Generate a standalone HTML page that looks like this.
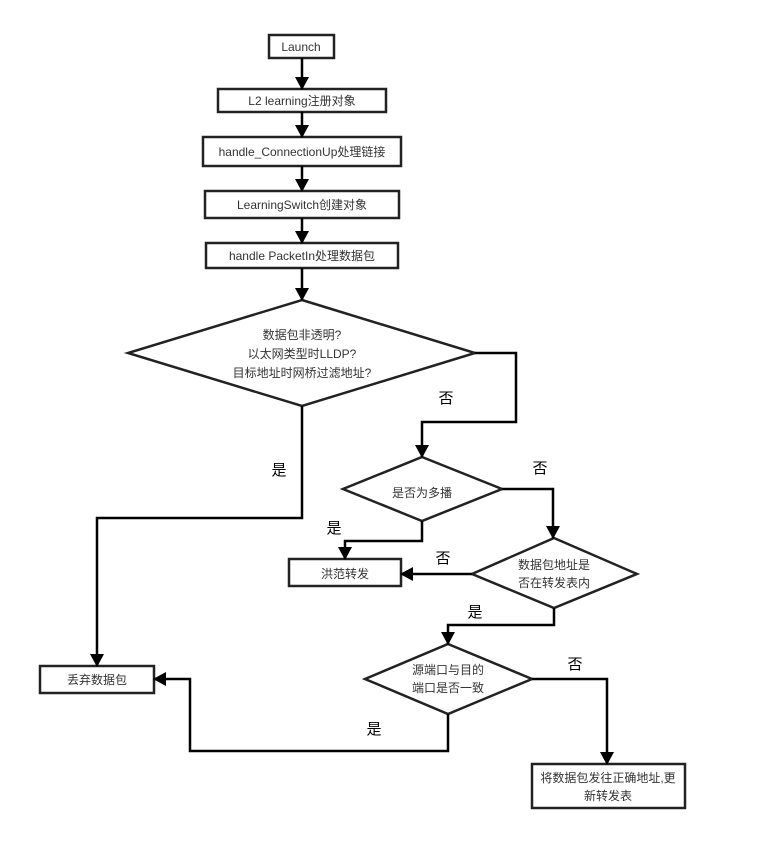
<!DOCTYPE html>
<html><head><meta charset="utf-8"><style>
html,body{margin:0;padding:0;background:#fff;}
svg{display:block;}
text{font-family:"Liberation Sans","Noto Sans CJK SC",sans-serif;fill:#333;font-size:12px;text-anchor:middle;}
.lbl{font-size:15px;fill:#000;}
</style></head><body>
<svg width="765" height="843" viewBox="0 0 765 843" xmlns="http://www.w3.org/2000/svg">
<defs><marker id="a" markerWidth="14" markerHeight="14" refX="12" refY="7" orient="auto" markerUnits="userSpaceOnUse"><path d="M0,0 L13,7 L0,14 Z" fill="#000"/></marker></defs>
<g fill="#fff" stroke="#222" stroke-width="2.5">
<rect x="269" y="35" width="65" height="23"/>
<rect x="218" y="89" width="168" height="23"/>
<rect x="203" y="137" width="198" height="29"/>
<rect x="205" y="191" width="194" height="27"/>
<rect x="206" y="243" width="192" height="25"/>
<polygon points="302,300 475,353 302,406 128,353"/>
<polygon points="422,457 502,489 422,521 343,489"/>
<rect x="289" y="559" width="112" height="27"/>
<polygon points="554,538 637,574 554,608 472,574"/>
<polygon points="448,644 532,679 448,714 365,679"/>
<rect x="40" y="666" width="114" height="27"/>
<rect x="532" y="764" width="153" height="44"/>
</g>
<g fill="none" stroke="#000" stroke-width="2.5" marker-end="url(#a)">
<path d="M302,58 V89"/>
<path d="M302,112 V137"/>
<path d="M302,166 V191"/>
<path d="M302,218 V243"/>
<path d="M302,268 V300"/>
<path d="M475,353 H516 V422 H422 V457"/>
<path d="M302,406 V518 H97 V666"/>
<path d="M502,489 H553 V538"/>
<path d="M422,521 V541 H345 V559"/>
<path d="M472,574 H401"/>
<path d="M554,608 V625 H448 V644"/>
<path d="M532,679 H607 V764"/>
<path d="M448,714 V751 H190 V679 H154"/>
</g>
<text x="301" y="51">Launch</text>
<text x="302" y="105">L2 learning注册对象</text>
<text x="302" y="156">handle_ConnectionUp处理链接</text>
<text x="302" y="209">LearningSwitch创建对象</text>
<text x="302" y="260">handle PacketIn处理数据包</text>
<text x="302" y="339">数据包非透明?</text>
<text x="302" y="358">以太网类型时LLDP?</text>
<text x="302" y="377">目标地址时网桥过滤地址?</text>
<text x="422" y="497">是否为多播</text>
<text x="345" y="578">洪范转发</text>
<text x="554" y="569">数据包地址是</text>
<text x="554" y="587">否在转发表内</text>
<text x="448" y="674">源端口与目的</text>
<text x="448" y="692">端口是否一致</text>
<text x="97" y="684">丢弃数据包</text>
<text x="608" y="782">将数据包发往正确地址,更</text>
<text x="608" y="800">新转发表</text>
<text class="lbl" x="446" y="403">否</text>
<text class="lbl" x="279" y="475">是</text>
<text class="lbl" x="540" y="473">否</text>
<text class="lbl" x="334" y="533">是</text>
<text class="lbl" x="443" y="563">否</text>
<text class="lbl" x="475" y="617">是</text>
<text class="lbl" x="575" y="669">否</text>
<text class="lbl" x="374" y="734">是</text>
</svg>
</body></html>
